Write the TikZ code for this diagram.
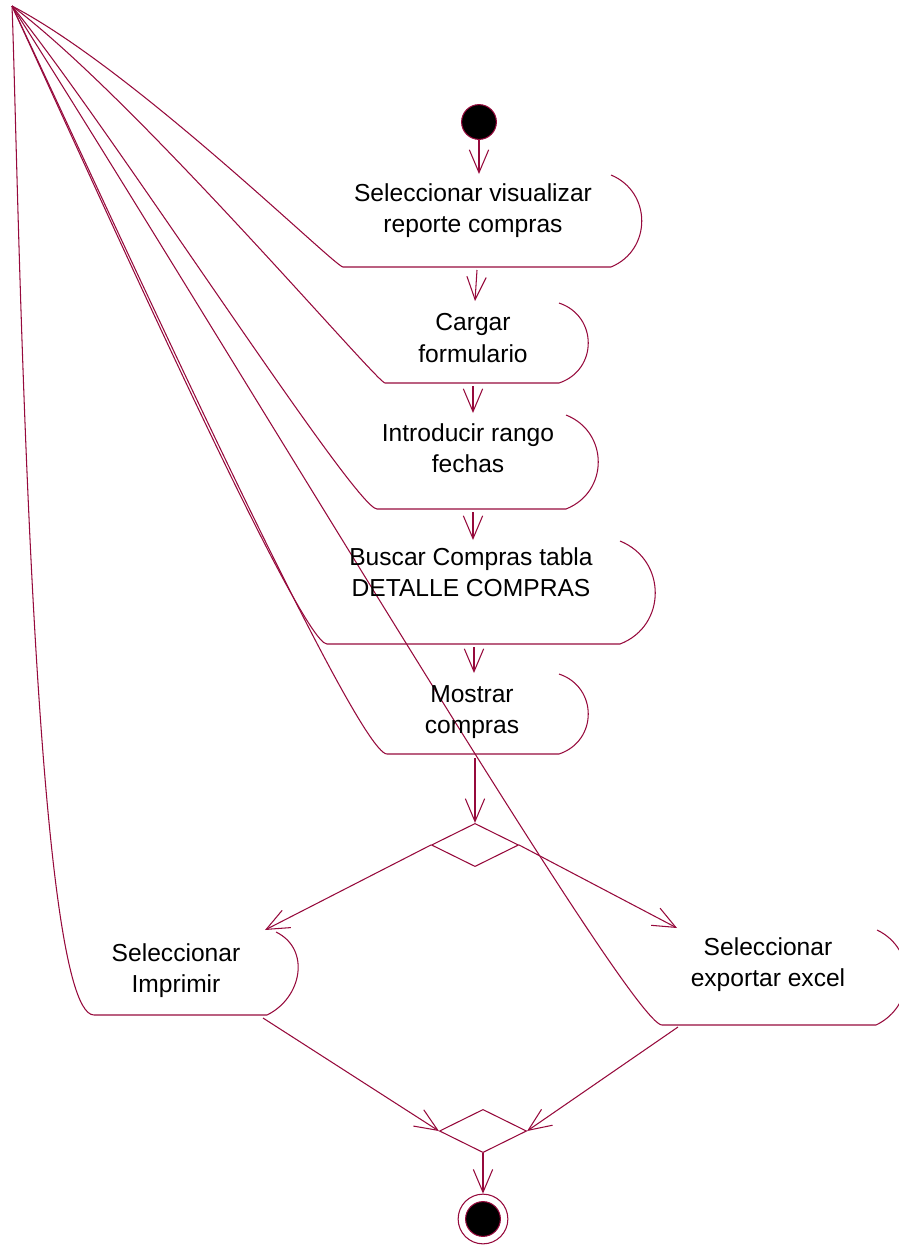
\documentclass[tikz,border=0pt]{standalone}
\usepackage{fontspec}
\setmainfont{Liberation Sans}
\usetikzlibrary{arrows.meta,shapes.geometric}
\definecolor{rosered}{RGB}{150,10,60}

\begin{document}
\begin{tikzpicture}[x=0.02cm, y=-0.02cm, line width=0.6pt,
  edge/.style={draw=rosered},
  flow/.style={draw=rosered, -{Straight Barb[length=13pt,width=11pt]}},
  txt/.style={text=black, align=center, font=\fontsize{14}{17.75}\selectfont},
  dot/.style={circle, fill=black, draw=rosered, minimum size=19.8pt, inner sep=0pt},
  ring/.style={circle, draw=rosered, minimum size=28.3pt, inner sep=0pt},
  decision/.style={diamond, draw=rosered, minimum width=49.6pt, minimum height=24.6pt, inner sep=0pt}]
  \useasboundingbox (0,0) rectangle (899,1248);
  \clip (0,0) rectangle (899,1248);
  \coordinate (apex) at (12,6);

  % activity outlines, all pulled into the corner
  \draw[edge] (apex) .. controls (135,70) and (335,267) .. (343,267) -- (611,267)
    .. controls (652,250) and (652,192) .. (611,175);
  \draw[edge] (apex) .. controls (134,97) and (377,383) .. (385,383) -- (559,383)
    .. controls (598,370) and (598,316) .. (559,303);
  \draw[edge] (apex) .. controls (110,127) and (355,509) .. (377,509) -- (566,509)
    .. controls (609,492) and (609,432) .. (566,415);
  \draw[edge] (apex) .. controls (90,175) and (300,644) .. (327,644) -- (620,644)
    .. controls (667,626) and (667,560) .. (620,541);
  \draw[edge] (apex) .. controls (95,180) and (355,754) .. (387,754) -- (559,754)
    .. controls (598,741) and (598,687) .. (559,674);
  \draw[edge] (apex) .. controls (18,150) and (30,1015) .. (94,1015) -- (267,1015)
    .. controls (302,998) and (311,949) .. (276,932);
  \draw[edge] (apex) .. controls (226,343) and (630,1025) .. (662,1025) -- (876,1025)
    .. controls (916,1006) and (917,949) .. (877,930);

  \node[txt] (a1) at (473,211) {Seleccionar visualizar\\reporte compras};
  \node[txt] (a2) at (473,338) {Cargar\\formulario};
  \node[txt] (a3) at (468,448) {Introducir rango\\fechas};
  \node[txt] (a4) at (471,572) {Buscar Compras tabla\\DETALLE COMPRAS};
  \node[txt] (a5) at (472,712) {Mostrar\\compras};
  \node[txt] (a6) at (176,971) {Seleccionar\\Imprimir};
  \node[txt] (a7) at (768,965) {Seleccionar\\exportar excel};

  % ends of the flow arrows on each activity
  \coordinate (a1in) at (479,174);
  \coordinate (a1out) at (477,270);
  \coordinate (a2in) at (475,301);
  \coordinate (a2out) at (473,386);
  \coordinate (a3in) at (473,413);
  \coordinate (a3out) at (473,512);
  \coordinate (a4in) at (473,540);
  \coordinate (a4out) at (474,647);
  \coordinate (a5in) at (474,673);
  \coordinate (a5out) at (475,758);
  \coordinate (a6in) at (265,930);
  \coordinate (a6out) at (263,1018);
  \coordinate (a7in) at (677,928);
  \coordinate (a7out) at (678,1027);

  \node[dot] (ini) at (479,122) {};
  \node[decision] (d1) at (475,845) {};
  \node[decision] (d2) at (483,1131) {};
  \node[ring] (fin) at (483,1219) {};
  \node[dot] (fincore) at (fin) {};

  \draw[flow] (ini) -- (a1in);
  \draw[flow] (a1out) -- (a2in);
  \draw[flow] (a2out) -- (a3in);
  \draw[flow] (a3out) -- (a4in);
  \draw[flow] (a4out) -- (a5in);
  \draw[flow] (a5out) -- (d1.north);
  \draw[flow] (d1.west) -- (a6in);
  \draw[flow] (d1.east) -- (a7in);
  \draw[flow] (a6out) -- (d2.west);
  \draw[flow] (a7out) -- (d2.east);
  \draw[flow] (d2.south) -- (fin.north);
\end{tikzpicture}
\end{document}
